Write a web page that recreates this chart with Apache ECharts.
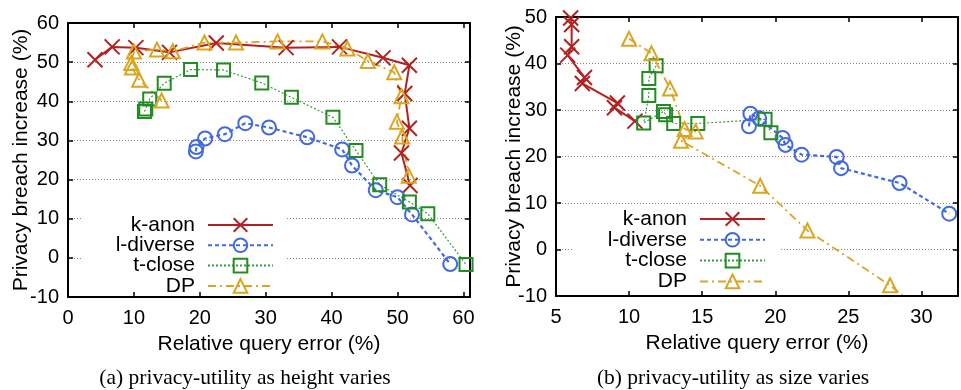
<!DOCTYPE html>
<html><head><meta charset="utf-8">
<script src="https://cdn.jsdelivr.net/npm/echarts@6/dist/echarts.min.js"></script>
<style>html,body{margin:0;padding:0;background:#fff}#c{width:961px;height:390px}</style>
</head><body><div id="c"></div>
<script>
// ---- data ----
const seriesNames = ['k-anon', 'l-diverse', 't-close', 'DP'];
const captionA = '(a) privacy-utility as height varies';
const captionB = '(b) privacy-utility as size varies';
const xTitle = 'Relative query error (%)';
const yTitle = 'Privacy breach increase (%)';

// (a) height varies : [relative query error, privacy breach increase]
const kAnonA = [[4.1,50.6],[6.7,53.9],[10.3,53.7],[15.4,52.5],[22.5,54.9],[33.1,53.7],[41.2,53.9],[47.8,51.1],[51.8,49.2],[51.1,42.0],[51.8,33.1],[50.6,26.8],[51.9,18.5]];
const lDiverseA = [[19.4,27.2],[19.5,28.3],[20.8,30.5],[23.8,31.6],[26.9,34.4],[30.5,33.3],[36.3,30.8],[41.6,27.7],[43.1,23.6],[46.7,17.3],[50.0,15.5],[52.2,11.1],[58.0,-1.6]];
const tCloseA = [[11.6,37.4],[11.8,38.0],[12.4,40.6],[14.6,44.6],[18.6,48.1],[23.6,48.0],[29.4,44.7],[33.9,41.0],[40.2,35.9],[43.7,27.4],[47.3,18.7],[51.8,14.3],[54.6,11.3],[60.4,-1.7]];
const dpA = [[14.2,40.2],[10.8,45.5],[9.7,48.6],[9.6,49.8],[10.0,52.7],[13.5,53.2],[15.9,52.8],[20.7,55.0],[25.5,55.0],[31.8,55.3],[38.6,55.3],[42.4,53.5],[45.5,50.3],[49.5,47.4],[50.6,41.3],[49.9,34.8],[50.7,31.0],[51.7,21.0]];

// (b) size varies
const kAnonB = [[6.0,49.8],[6.07,48.4],[6.07,43.6],[5.8,41.8],[6.95,37.0],[6.8,35.7],[9.2,31.5],[9.0,30.5],[10.4,27.6]];
const lDiverseB = [[18.2,26.5],[18.3,29.2],[18.9,28.2],[20.5,24.0],[20.7,22.5],[21.8,20.4],[24.2,19.9],[24.5,17.5],[28.5,14.3],[31.9,7.7]];
const tCloseB = [[11.85,39.5],[11.35,36.8],[11.35,33.1],[11.0,27.2],[12.35,29.7],[12.5,29.0],[13.05,27.1],[14.7,27.1],[19.3,28.0],[19.7,25.1]];
const dpB = [[10.0,45.3],[11.53,42.2],[12.8,34.6],[13.8,25.9],[14.55,25.4],[13.55,23.4],[18.97,13.7],[22.2,4.1],[27.85,-7.7],[30.0,-13.2]];

// axis ranges / ticks
const xRangeA = [0, 61], xStepA = 10;
const yRangeA = [-10, 60], yStepA = 10;
const xRangeB = [5, 32.5], xStepB = 5;
const yRangeB = [-10, 50], yStepB = 10;

// ---- style ----
const FONT = 'Liberation Sans';
const FS = 20;
const TFS = 21;
const styles = [
  {color: '#b22222', symbol: 'path://M0 0L10 10M10 0L0 10', size: 15, line: 'solid', width: 2},
  {color: '#4169e1', symbol: 'circle', size: 14, line: [4, 3], width: 2.2},
  {color: '#228b22', lineColor: '#3c9a3c', symbol: 'rect', size: 13, line: [2, 2], width: 1.2},
  {color: '#daa520', symbol: 'triangle', size: 14, line: [8, 4, 2, 4], width: 1.8}
];

function xAxes(range, step, gridIndex) {
  const fmt = v => (Math.abs(v / step - Math.round(v / step)) < 1e-6 ? String(v) : '');
  const base = {
    type: 'value', gridIndex, min: range[0], max: range[1], interval: step,
    axisLine: {show: true, onZero: false, lineStyle: {color: '#000', width: 2}},
    axisTick: {show: true, inside: true, length: 5, lineStyle: {color: '#000', width: 1.5}},
    splitLine: {show: false}
  };
  return [
    Object.assign({}, base, {position: 'bottom', z: 6,
      name: xTitle, nameLocation: 'middle', nameGap: 37, nameMoveOverlap: false,
      nameTextStyle: {fontFamily: FONT, fontSize: TFS, color: '#000'},
      axisLabel: {show: true, margin: 11, formatter: fmt, fontFamily: FONT, fontSize: FS, color: '#000'}}),
    Object.assign({}, base, {position: 'top', axisLabel: {show: false}})
  ];
}
function yAxes(range, step, gridIndex, nameGap) {
  const base = {
    type: 'value', gridIndex, min: range[0], max: range[1], interval: step,
    axisLine: {show: true, onZero: false, lineStyle: {color: '#000', width: 2}},
    axisTick: {show: true, inside: true, length: 5, lineStyle: {color: '#000', width: 1.5}}
  };
  return [
    Object.assign({}, base, {position: 'left',
      name: yTitle, nameLocation: 'middle', nameGap: nameGap, nameMoveOverlap: false,
      nameTextStyle: {fontFamily: FONT, fontSize: TFS, color: '#000'},
      axisLabel: {show: true, margin: 9, fontFamily: FONT, fontSize: FS, color: '#000'},
      splitLine: {show: true, lineStyle: {color: '#888', width: 1, type: [1, 2]}}}),
    Object.assign({}, base, {position: 'right', axisLabel: {show: false}, splitLine: {show: false}})
  ];
}

function makeSeries(data, idx, axisIdx) {
  const s = styles[idx];
  return {
    name: seriesNames[idx], type: 'line', xAxisIndex: axisIdx, yAxisIndex: axisIdx,
    data: data, symbol: s.symbol, symbolSize: s.size, showAllSymbol: true,
    clip: true, animation: false,
    lineStyle: {color: s.lineColor || s.color, width: s.width, type: s.line},
    itemStyle: {color: 'transparent', borderColor: s.color, borderWidth: 2},
    emphasis: {disabled: true}
  };
}

function makeLegend(left, top, gap, padTop) {
  return {
    data: seriesNames, orient: 'vertical', left: left, top: top,
    align: 'right', itemWidth: 65, itemHeight: 17, itemGap: gap,
    padding: [padTop, 13, 0, 0], backgroundColor: '#fff',
    selectedMode: false, inactiveColor: '#000',
    formatter: '{a|{name}}',
    textStyle: {fontFamily: FONT, fontSize: TFS, color: '#000', lineHeight: 17,
      rich: {a: {width: 114, align: 'right', padding: [0, 8, 0, 0], fontFamily: FONT, fontSize: TFS, color: '#000', lineHeight: 17, height: 17}}}
  };
}

const chart = echarts.init(document.getElementById('c'), null, {renderer: 'canvas'});
chart.setOption({
  animation: false,
  backgroundColor: '#fff',
  grid: [
    {left: 68, top: 23, width: 402, height: 274},
    {left: 556, top: 17, width: 403, height: 279}
  ],
  xAxis: [].concat(xAxes(xRangeA, xStepA, 0), xAxes(xRangeB, xStepB, 1)),
  yAxis: [].concat(yAxes(yRangeA, yStepA, 0, 36), yAxes(yRangeB, yStepB, 1, 31)),
  legend: [makeLegend(81, 211.5, -0.7, 3), makeLegend(573, 207.5, -0.2, 1)],
  series: [
    makeSeries(kAnonA, 0, 0), makeSeries(lDiverseA, 1, 0), makeSeries(tCloseA, 2, 0), makeSeries(dpA, 3, 0),
    makeSeries(kAnonB, 0, 2), makeSeries(lDiverseB, 1, 2), makeSeries(tCloseB, 2, 2), makeSeries(dpB, 3, 2)
  ],
  graphic: [
    {type: 'text', x: 245, y: 378, style: {text: captionA, textAlign: 'center', textVerticalAlign: 'middle', font: '21.5px "Liberation Serif"', fill: '#000'}},
    {type: 'text', x: 733, y: 378, style: {text: captionB, textAlign: 'center', textVerticalAlign: 'middle', font: '21.5px "Liberation Serif"', fill: '#000'}}
  ]
});
</script>
</body></html>
